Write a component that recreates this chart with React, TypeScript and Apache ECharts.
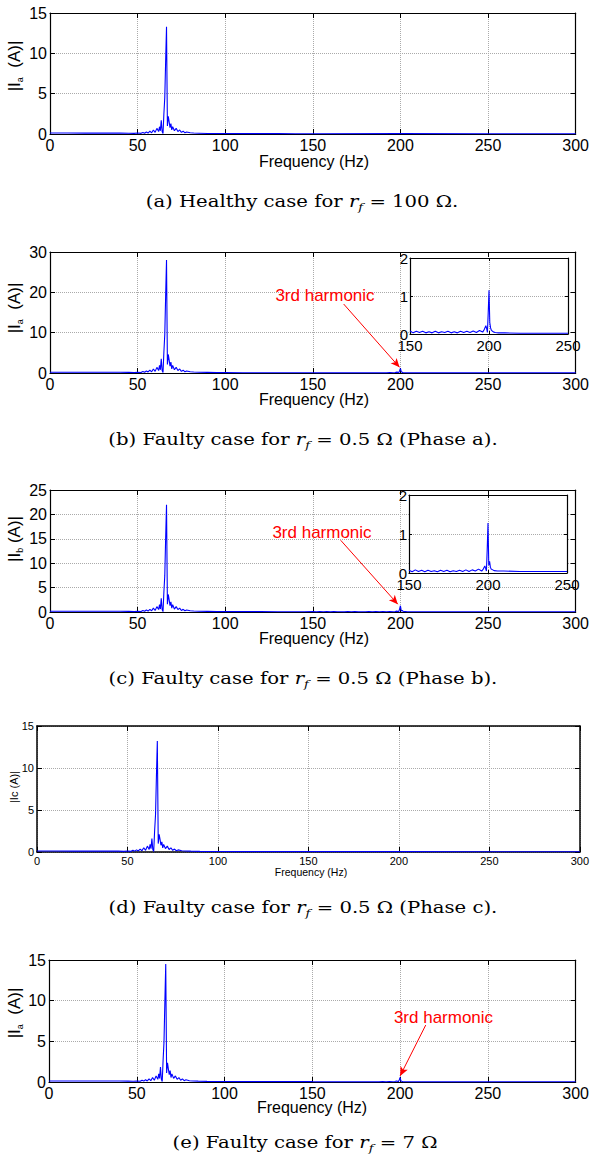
import React, { useEffect, useRef } from "react";
import * as echarts from "echarts";

// ---------- data ----------
// background (flat) part of every spectrum
const bgFreq = [0, 10, 20, 30, 40, 45, 95, 100, 110, 120, 130, 140, 145, 260, 270, 280, 290, 300];
const aBg = [0.12, 0.12, 0.11, 0.12, 0.11, 0.1, 0.06, 0.06, 0.05, 0.05, 0.05, 0.04, 0.04, 0.03, 0.03, 0.03, 0.03, 0.03];
const bBg = [0.2, 0.2, 0.18, 0.2, 0.18, 0.16, 0.1, 0.1, 0.08, 0.08, 0.07, 0.07, 0.06, 0.03, 0.03, 0.03, 0.03, 0.03];
const cBg = [0.16, 0.16, 0.15, 0.16, 0.15, 0.13, 0.08, 0.08, 0.07, 0.07, 0.06, 0.06, 0.05, 0.04, 0.04, 0.04, 0.04, 0.04];
const dBg = [0.12, 0.12, 0.11, 0.12, 0.11, 0.1, 0.06, 0.06, 0.05, 0.05, 0.05, 0.04, 0.04, 0.03, 0.03, 0.03, 0.03, 0.03];
const eBg = [0.13, 0.13, 0.12, 0.13, 0.12, 0.11, 0.06, 0.06, 0.05, 0.05, 0.05, 0.04, 0.04, 0.03, 0.03, 0.03, 0.03, 0.03];

// fundamental peak region
const peakFreq = [48, 50, 52, 53, 54, 55, 56, 57, 58, 59, 60, 61, 62, 62.5, 63, 63.5, 64, 64.5, 65, 65.5, 66, 66.5, 67, 67.5, 68, 68.5, 69, 69.5, 70, 71, 72, 73, 74, 75, 76, 77, 78, 80, 82, 85, 90];
const aPeak = [0.08, 0.12, 0.08, 0.2, 0.1, 0.25, 0.12, 0.35, 0.15, 0.5, 0.2, 0.7, 0.3, 0.9, 0.4, 1.7, 0.3, 0.05, 2.5, 4.5, 9, 13.3, 1.0, 2.2, 1.5, 0.8, 1.3, 0.5, 0.9, 0.4, 0.7, 0.3, 0.5, 0.2, 0.35, 0.15, 0.25, 0.15, 0.12, 0.1, 0.07];
const bPeak = [0.1, 0.2, 0.12, 0.4, 0.2, 0.5, 0.25, 0.7, 0.3, 1.0, 0.4, 1.4, 0.6, 1.9, 0.8, 3.5, 0.6, 0.1, 5.2, 9.5, 19, 28, 2.1, 4.6, 3.2, 1.7, 2.7, 1.0, 1.9, 0.8, 1.4, 0.6, 1.0, 0.4, 0.7, 0.3, 0.5, 0.3, 0.25, 0.2, 0.15];
const cPeak = [0.08, 0.15, 0.1, 0.3, 0.15, 0.4, 0.2, 0.55, 0.25, 0.8, 0.3, 1.1, 0.5, 1.5, 0.6, 2.8, 0.5, 0.08, 4.1, 7.4, 15, 22, 1.6, 3.6, 2.5, 1.3, 2.1, 0.8, 1.5, 0.6, 1.1, 0.5, 0.8, 0.3, 0.55, 0.25, 0.4, 0.25, 0.2, 0.15, 0.12];
const dPeak = [0.08, 0.12, 0.08, 0.2, 0.1, 0.25, 0.12, 0.35, 0.15, 0.5, 0.2, 0.7, 0.3, 0.9, 0.4, 1.6, 0.3, 0.05, 2.5, 4.4, 9, 13.2, 1.0, 2.1, 1.5, 0.8, 1.2, 0.5, 0.9, 0.4, 0.7, 0.3, 0.5, 0.2, 0.35, 0.15, 0.25, 0.15, 0.12, 0.1, 0.07];
const ePeak = [0.09, 0.13, 0.09, 0.22, 0.11, 0.28, 0.13, 0.38, 0.16, 0.55, 0.22, 0.75, 0.33, 1.0, 0.45, 1.85, 0.33, 0.06, 2.7, 4.9, 9.8, 14.5, 1.1, 2.35, 1.6, 0.9, 1.4, 0.55, 1.0, 0.45, 0.75, 0.33, 0.55, 0.22, 0.38, 0.16, 0.27, 0.16, 0.13, 0.11, 0.08];

// third-harmonic region (150 - 250 Hz)
const harmFreq = [150, 152, 154, 156, 158, 160, 162, 164, 166, 168, 170, 172, 174, 176, 178, 180, 182, 184, 186, 188, 190, 192, 194, 196, 197, 198, 198.5, 199, 199.5, 200, 200.5, 201, 201.5, 202, 203, 204, 206, 210, 220, 230, 240, 250];
const bHarm = [0.08, 0.03, 0.07, 0.04, 0.07, 0.03, 0.06, 0.03, 0.07, 0.03, 0.06, 0.04, 0.07, 0.03, 0.06, 0.03, 0.07, 0.04, 0.07, 0.04, 0.08, 0.04, 0.09, 0.05, 0.12, 0.22, 0.15, 0.04, 0.55, 1.15, 0.3, 0.16, 0.1, 0.08, 0.05, 0.04, 0.03, 0.03, 0.02, 0.02, 0.02, 0.02];
const cHarm = [0.07, 0.03, 0.08, 0.04, 0.07, 0.03, 0.07, 0.04, 0.06, 0.03, 0.07, 0.04, 0.07, 0.03, 0.06, 0.04, 0.07, 0.04, 0.08, 0.04, 0.08, 0.05, 0.1, 0.05, 0.1, 0.18, 0.12, 0.05, 0.6, 1.28, 0.2, 0.3, 0.15, 0.1, 0.08, 0.06, 0.05, 0.05, 0.04, 0.04, 0.04, 0.04];
const eHarm = [0.04, 0.02, 0.04, 0.02, 0.04, 0.02, 0.04, 0.02, 0.04, 0.02, 0.04, 0.02, 0.04, 0.02, 0.04, 0.02, 0.04, 0.02, 0.04, 0.02, 0.05, 0.02, 0.05, 0.03, 0.06, 0.12, 0.08, 0.03, 0.25, 0.55, 0.12, 0.08, 0.05, 0.04, 0.03, 0.03, 0.02, 0.02, 0.02, 0.02, 0.02, 0.02];
const quietHarmFreq = [150, 200, 250];
const aHarm = [0.04, 0.05, 0.03];
const dHarm = [0.04, 0.05, 0.03];

// axes
const xTickStep = 50;
const xMax = 300;
const yMaxes = [15, 30, 25, 15, 15];
const ySteps = [5, 10, 5, 5, 5];
const insetX = [150, 250, 50];
const insetY = [0, 2, 1];

// texts
const captions = [
  ["(a) Healthy case for ", " = 100 Ω."],
  ["(b) Faulty case for ", " = 0.5 Ω (Phase a)."],
  ["(c) Faulty case for ", " = 0.5 Ω (Phase b)."],
  ["(d) Faulty case for ", " = 0.5 Ω (Phase c)."],
  ["(e) Faulty case for ", " = 7 Ω"],
];
const yLabelSubs = ["a", "a", "b", "", "a"];
const harmonicLabel = "3rd harmonic";
const freqLabel = "Frequency (Hz)";

// ---------- helpers ----------
const zip = (f: number[], v: number[]) => f.map((x, i) => [x, v[i]]);
const merge = (...parts: number[][][]) =>
  parts.flat().sort((p, q) => p[0] - q[0]);

const SANS = "Liberation Sans, Arial, Helvetica, sans-serif";
const SERIF = "DejaVu Serif, serif";
const BLUE = "#0000ff";

export default function App() {
  const ref = useRef<HTMLDivElement>(null);

  useEffect(() => {
    document.body.style.margin = "0";
    if (!ref.current) return;
    const chart = echarts.init(ref.current, null, { renderer: "svg" });

    const grids: any[] = [
      { left: 50, top: 13, width: 528, height: 121 },
      { left: 50, top: 252, width: 528, height: 121 },
      { left: 50, top: 490, width: 528, height: 122 },
      { left: 37, top: 726, width: 545, height: 126 },
      { left: 49, top: 960, width: 528, height: 122 },
      { left: 410, top: 258, width: 158, height: 76, z: 3, show: true, backgroundColor: "#fff", borderWidth: 0 },
      { left: 409, top: 495, width: 158, height: 78, z: 3, show: true, backgroundColor: "#fff", borderWidth: 0 },
    ];

    const xAxis: any[] = [];
    const yAxis: any[] = [];

    const addAxes = (
      gi: number,
      xr: number[],
      yr: number[],
      font: number,
      lw: number,
      tickLen: number,
      xMargin: number,
      yMargin: number,
      z: number
    ) => {
      const line = { show: true, onZero: false, lineStyle: { color: "#000", width: lw } };
      const tick = { show: true, inside: true, length: tickLen, lineStyle: { color: "#000", width: 1 } };
      const split = { show: true, lineStyle: { type: "dotted", color: "#aaaaaa", width: 1 } };
      const label = { show: true, color: "#000", fontSize: font, fontFamily: SANS, hideOverlap: false, showMinLabel: true, showMaxLabel: true };
      xAxis.push({
        type: "value", gridIndex: gi, position: "bottom", min: xr[0], max: xr[1], interval: xr[2], z,
        axisLine: line, axisTick: tick, splitLine: split,
        axisLabel: { ...label, margin: xMargin },
      });
      xAxis.push({
        type: "value", gridIndex: gi, position: "top", min: xr[0], max: xr[1], interval: xr[2], z,
        axisLine: line, axisTick: tick, splitLine: { show: false }, axisLabel: { show: false },
      });
      yAxis.push({
        type: "value", gridIndex: gi, position: "left", min: yr[0], max: yr[1], interval: yr[2], z,
        axisLine: line, axisTick: tick, splitLine: split,
        axisLabel: { ...label, margin: yMargin },
      });
      yAxis.push({
        type: "value", gridIndex: gi, position: "right", min: yr[0], max: yr[1], interval: yr[2], z,
        axisLine: line, axisTick: tick, splitLine: { show: false }, axisLabel: { show: false },
      });
    };

    for (let i = 0; i < 5; i++) {
      const small = i === 3;
      addAxes(
        i,
        [0, xMax, xTickStep],
        [0, yMaxes[i], ySteps[i]],
        small ? 11 : 16,
        small ? 1.5 : 1.2,
        5,
        3,
        3,
        0
      );
    }
    addAxes(5, insetX, insetY, 15, 1.2, 3, 4, 2, 4);
    addAxes(6, insetX, insetY, 15, 1.2, 3, 4, 2, 4);

    const arrowMark = (from: number[], to: number[]) => ({
      silent: true,
      symbol: ["none", "arrow"],
      symbolSize: [6, 9],
      lineStyle: { color: "#ff0000", width: 1, type: "solid" },
      label: { show: false },
      emphasis: { disabled: true },
      data: [[{ coord: from }, { coord: to }]],
    });

    const mainData = [
      merge(zip(bgFreq, aBg), zip(peakFreq, aPeak), zip(quietHarmFreq, aHarm)),
      merge(zip(bgFreq, bBg), zip(peakFreq, bPeak), zip(harmFreq, bHarm)),
      merge(zip(bgFreq, cBg), zip(peakFreq, cPeak), zip(harmFreq, cHarm)),
      merge(zip(bgFreq, dBg), zip(peakFreq, dPeak), zip(quietHarmFreq, dHarm)),
      merge(zip(bgFreq, eBg), zip(peakFreq, ePeak), zip(harmFreq, eHarm)),
    ];
    const arrows: any[] = [
      null,
      arrowMark([167.6, 17.1], [199.5, 1.4]),
      arrowMark([165.9, 14.7], [198.5, 1.6]),
      null,
      arrowMark([214.6, 7.0], [200, 0.75]),
    ];

    const series: any[] = mainData.map((d, i) => ({
      type: "line",
      xAxisIndex: 2 * i,
      yAxisIndex: 2 * i,
      data: d,
      showSymbol: false,
      symbol: "none",
      lineStyle: { color: BLUE, width: 1.1 },
      itemStyle: { color: BLUE },
      z: 2,
      ...(arrows[i] ? { markLine: arrows[i] } : {}),
    }));
    series.push(
      {
        type: "line", xAxisIndex: 10, yAxisIndex: 10, data: zip(harmFreq, bHarm),
        showSymbol: false, symbol: "none", lineStyle: { color: BLUE, width: 1.1 }, z: 6,
      },
      {
        type: "line", xAxisIndex: 12, yAxisIndex: 12, data: zip(harmFreq, cHarm),
        showSymbol: false, symbol: "none", lineStyle: { color: BLUE, width: 1.1 }, z: 6,
      }
    );

    // texts
    const graphic: any[] = [];
    const captionPos = [
      [302, 201], [303, 439], [303, 678], [303, 907], [305, 1142],
    ];
    captions.forEach((c, i) => {
      graphic.push({
        type: "text",
        x: captionPos[i][0],
        y: captionPos[i][1],
        scaleX: 1.19,
        style: {
          text: `{n|${c[0]}}{i|r}{s|f}{n|${c[1]}}`,
          align: "center",
          verticalAlign: "middle",
          rich: {
            n: { fontFamily: SERIF, fontSize: 16.5, lineHeight: 24, fill: "#000", verticalAlign: "middle" },
            i: { fontFamily: SERIF, fontSize: 16.5, fontStyle: "italic", lineHeight: 24, fill: "#000", verticalAlign: "middle" },
            s: { fontFamily: SERIF, fontSize: 11, fontStyle: "italic", lineHeight: 12, fill: "#000", verticalAlign: "bottom" },
          },
        },
      });
    });

    const freqPos = [[314, 161], [314, 399.5], [314, 638.5], [311, 872], [312, 1107]];
    freqPos.forEach((p, i) => {
      graphic.push({
        type: "text",
        x: p[0],
        y: p[1],
        style: {
          text: freqLabel,
          fontFamily: SANS,
          fontSize: i === 3 ? 10.5 : 16,
          fill: "#000",
          align: "center",
          verticalAlign: "middle",
        },
      });
    });

    const yLabelPos = [[14, 66], [14, 308], [14, 539], [14, 787], [14, 1013]];
    yLabelPos.forEach((p, i) => {
      const small = i === 3;
      const text = small
        ? "{t||Ic (A)|}"
        : `{t||I}{s|${yLabelSubs[i]}}{t|${i === 2 ? " " : "  "}(A)|}`;
      graphic.push({
        type: "text",
        x: p[0],
        y: p[1],
        rotation: Math.PI / 2,
        style: {
          text,
          align: "center",
          verticalAlign: "middle",
          rich: {
            t: { fontFamily: SANS, fontSize: small ? 11 : 17, lineHeight: small ? 13 : 20, fill: "#000", verticalAlign: "middle" },
            s: { fontFamily: SANS, fontSize: 9, lineHeight: 9, fill: "#000", verticalAlign: "bottom" },
          },
        },
      });
    });

    const harmPos = [[325, 295], [322, 532], [443.5, 1017]];
    harmPos.forEach((p) => {
      graphic.push({
        type: "text",
        x: p[0],
        y: p[1],
        z: 10,
        style: {
          text: harmonicLabel,
          fontFamily: SANS,
          fontSize: 17,
          fill: "#ff0000",
          align: "center",
          verticalAlign: "middle",
        },
      });
    });

    chart.setOption({
      animation: false,
      backgroundColor: "#ffffff",
      grid: grids,
      xAxis,
      yAxis,
      series,
      graphic,
    });

    return () => chart.dispose();
  }, []);

  return <div ref={ref} style={{ width: 592, height: 1157 }} />;
}
